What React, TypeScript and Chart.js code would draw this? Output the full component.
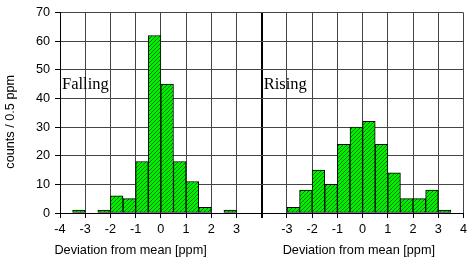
import React, { useEffect, useRef } from "react";
import { Chart, registerables } from "chart.js";

Chart.register(...registerables);

// Histogram data (bin start in ppm, bin width 0.5 ppm)
const binWidth = 0.5;
const fallingStarts = [-3.5, -2.5, -2, -1.5, -1, -0.5, 0, 0.5, 1, 1.5, 2.5];
const fallingCounts = [1, 1, 6, 5, 18, 62, 45, 18, 11, 2, 1];
const risingStarts = [-3, -2.5, -2, -1.5, -1, -0.5, 0, 0.5, 1, 1.5, 2, 2.5, 3];
const risingCounts = [2, 8, 15, 10, 24, 30, 32, 24, 14, 5, 5, 8, 1];

// Each panel spans -4..4 ppm; panels are laid side by side on one axis
const panelNames = ["Falling", "Rising"];
const panelOffsets = [4, 12];
const panelRange = 8;
const xTitle = "Deviation from mean [ppm]";
const yTitle = "counts / 0.5 ppm";
const yMax = 70;
const yStep = 10;

// text placement (axis units)
const panelLabelY = 44.7;
const titleCenters = [2.8, 11.85];

const SANS = "'Liberation Sans', Arial, sans-serif";
const SERIF = "'Liberation Serif', 'Times New Roman', serif";
const FS = 12.7;

function makePattern(): CanvasPattern | string {
  const c = document.createElement("canvas");
  c.width = 4;
  c.height = 4;
  const g = c.getContext("2d");
  if (!g) return "#00ff00";
  g.fillStyle = "#00f000";
  g.fillRect(0, 0, 4, 4);
  g.strokeStyle = "#007a00";
  g.lineWidth = 1;
  g.beginPath();
  g.moveTo(0, 4);
  g.lineTo(4, 0);
  g.moveTo(-1, 1);
  g.lineTo(1, -1);
  g.moveTo(3, 5);
  g.lineTo(5, 3);
  g.stroke();
  const p = g.createPattern(c, "repeat");
  return p || "#00ff00";
}

function tickLabel(v: number): string {
  if (v === panelRange) return "";
  if (v < panelRange) return String(v - panelOffsets[0]);
  return String(v - panelOffsets[1]);
}

const textPlugin = {
  id: "panelText",
  afterDraw(chart: any) {
    const ctx = chart.ctx;
    const x = chart.scales.x;
    const y = chart.scales.y;
    ctx.save();
    ctx.fillStyle = "#000";
    ctx.font = `16.5px ${SERIF}`;
    ctx.textAlign = "left";
    ctx.textBaseline = "middle";
    panelOffsets.forEach((off, i) => {
      const px = x.getPixelForValue(off - 4) + 2;
      ctx.fillText(panelNames[i], px, y.getPixelForValue(panelLabelY));
    });
    ctx.font = `${FS}px ${SANS}`;
    ctx.textAlign = "center";
    titleCenters.forEach((c) => {
      ctx.fillText(xTitle, x.getPixelForValue(c), chart.height - 11);
    });
    // y axis title
    ctx.translate(10, (chart.chartArea.top + chart.chartArea.bottom) / 2 + 9);
    ctx.rotate(-Math.PI / 2);
    ctx.fillText(yTitle, 0, 0);
    ctx.restore();
  },
};

export default function App() {
  const ref = useRef<HTMLCanvasElement>(null);
  useEffect(() => {
    if (!ref.current) return;
    const pattern = makePattern();
    const toPoints = (starts: number[], counts: number[], off: number) =>
      starts.map((s, i) => ({ x: s + binWidth / 2 + off, y: counts[i] }));
    const chart = new Chart(ref.current, {
      type: "bar",
      data: {
        datasets: [
          {
            label: panelNames[0],
            data: toPoints(fallingStarts, fallingCounts, panelOffsets[0]),
            backgroundColor: pattern as any,
            borderColor: "#000",
            borderWidth: 1,
            borderSkipped: false,
          },
          {
            label: panelNames[1],
            data: toPoints(risingStarts, risingCounts, panelOffsets[1]),
            backgroundColor: pattern as any,
            borderColor: "#000",
            borderWidth: 1,
            borderSkipped: false,
          },
        ],
      },
      options: {
        animation: false,
        responsive: false,
        devicePixelRatio: 1,
        layout: { padding: { left: 0, right: 7, top: 12, bottom: 0 } },
        plugins: { legend: { display: false }, tooltip: { enabled: false } },
        datasets: {
          bar: { barPercentage: 1, categoryPercentage: 1, grouped: false },
        },
        scales: {
          x: {
            type: "linear",
            min: 0,
            max: panelRange * 2,
            offset: false,
            afterFit: (s: any) => {
              s.height = 48;
            },
            ticks: {
              stepSize: 1,
              autoSkip: false,
              maxRotation: 0,
              padding: 4,
              color: "#000",
              font: { family: SANS, size: FS },
              callback: (v: any) => tickLabel(Number(v)),
            },
            grid: {
              offset: false,
              color: (c: any) => (c.tick && c.tick.value === panelRange ? "#000" : "#444"),
              lineWidth: (c: any) => (c.tick && c.tick.value === panelRange ? 2 : 1),
              tickColor: "#000",
              tickLength: 5,
            },
            border: { color: "#000", width: 1 },
          },
          y: {
            type: "linear",
            min: 0,
            max: yMax,
            afterFit: (s: any) => {
              s.width = 60;
            },
            ticks: {
              stepSize: yStep,
              padding: 5,
              color: "#000",
              font: { family: SANS, size: FS },
            },
            grid: { color: "#444", tickColor: "#000", tickLength: 5 },
            border: { color: "#000", width: 1 },
          },
        },
      },
      plugins: [textPlugin],
    } as any);
    return () => chart.destroy();
  }, []);
  return (
    <div style={{ position: "fixed", left: 0, top: 0, width: 471, height: 261, background: "#fff" }}>
      <canvas ref={ref} width={471} height={261} style={{ display: "block" }} />
    </div>
  );
}
